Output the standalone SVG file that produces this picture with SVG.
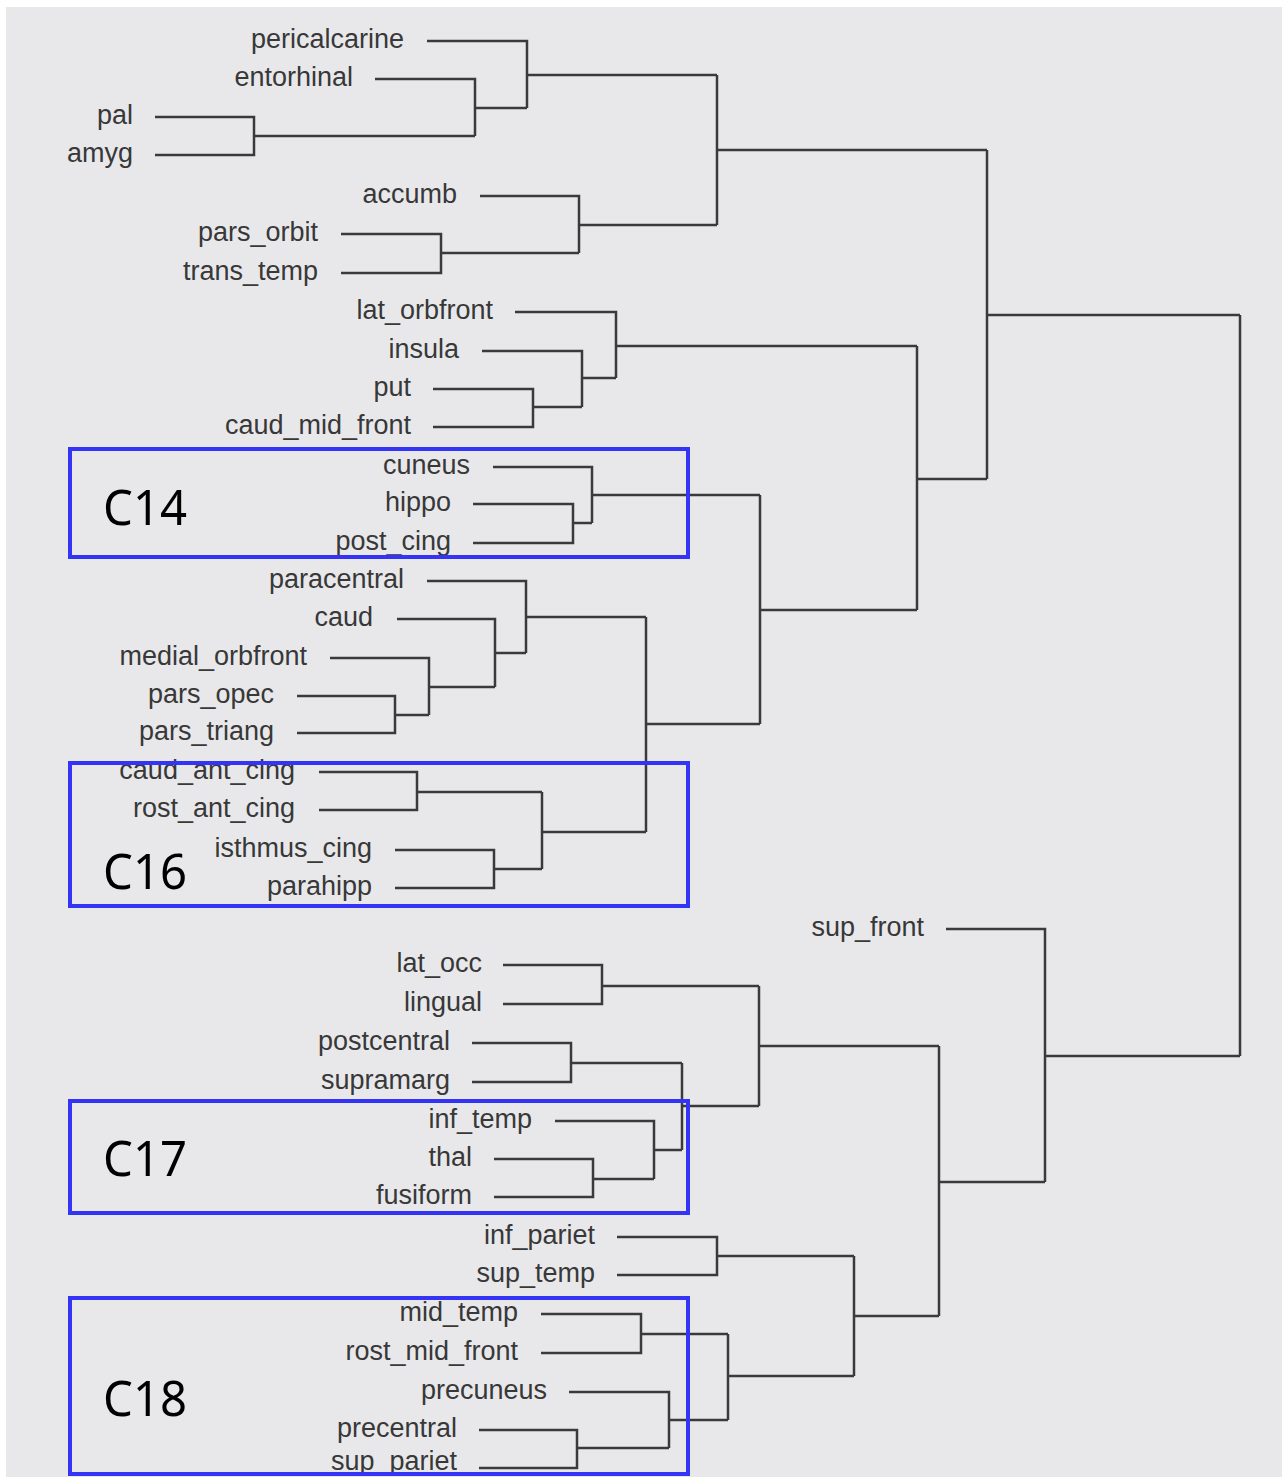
<svg xmlns="http://www.w3.org/2000/svg" width="1282" height="1477" viewBox="0 0 1282 1477">
<style>
.bg{fill:#e8e8eb}
.lbl{font-family:"Liberation Sans",Arial,sans-serif;font-size:27px;fill:#383838;text-anchor:end}
.ln{fill:none;stroke:#3a3a3a;stroke-width:2.5}
.box{fill:none;stroke:#3434f6;stroke-width:4}
.cl{font-family:"Noto Sans","Open Sans",sans-serif;font-size:49px;fill:#000}
</style>
<rect width="1282" height="1477" fill="#ffffff"/>
<rect class="bg" x="6" y="7" width="1276" height="1470"/>
<g id="connectors">
<path class="ln" d="M155 117H254V155H155 M254 136H475"/>
<path class="ln" d="M375 79H475V136 M475 108H527"/>
<path class="ln" d="M427 41H527V108 M527 75H717"/>
<path class="ln" d="M341 234H441V273H341 M441 253H579"/>
<path class="ln" d="M480 196H579V253 M579 225H717"/>
<path class="ln" d="M717 75V225 M717 150H987"/>
<path class="ln" d="M433 389H533V427H433 M533 407H582"/>
<path class="ln" d="M482 351H582V407 M582 378H616"/>
<path class="ln" d="M515 312H616V378 M616 346H917"/>
<path class="ln" d="M473 504H573V543H473 M573 523H592"/>
<path class="ln" d="M493 467H592V523 M592 495H760"/>
<path class="ln" d="M297 696H395V733H297 M395 715H429"/>
<path class="ln" d="M330 658H429V715 M429 687H495"/>
<path class="ln" d="M397 619H495V687 M495 653H526"/>
<path class="ln" d="M427 581H526V653 M526 617H646"/>
<path class="ln" d="M319 772H417V810H319 M417 792H542"/>
<path class="ln" d="M395 850H494V888H395 M494 869H542"/>
<path class="ln" d="M542 792V869 M542 832H646"/>
<path class="ln" d="M646 617V832 M646 724H760"/>
<path class="ln" d="M760 495V724 M760 610H917"/>
<path class="ln" d="M917 346V610 M917 479H987"/>
<path class="ln" d="M987 150V479 M987 315H1240"/>
<path class="ln" d="M503 965H602V1004H503 M602 986H759"/>
<path class="ln" d="M472 1043H571V1082H472 M571 1063H682"/>
<path class="ln" d="M494 1159H593V1197H494 M593 1179H654"/>
<path class="ln" d="M555 1121H654V1179 M654 1150H682"/>
<path class="ln" d="M682 1063V1150 M682 1106H759"/>
<path class="ln" d="M759 986V1106 M759 1046H939"/>
<path class="ln" d="M617 1237H717V1275H617 M717 1256H854"/>
<path class="ln" d="M541 1314H641V1353H541 M641 1334H728"/>
<path class="ln" d="M479 1430H577V1468H479 M577 1448H669"/>
<path class="ln" d="M569 1392H669V1448 M669 1420H728"/>
<path class="ln" d="M728 1334V1420 M728 1376H854"/>
<path class="ln" d="M854 1256V1376 M854 1316H939"/>
<path class="ln" d="M939 1046V1316 M939 1182H1045"/>
<path class="ln" d="M946 929H1045V1182 M1045 1056H1240"/>
<path class="ln" d="M1240 315V1056"/>
</g>
<g id="leaves">
<g id="n-pericalcarine"><text class="lbl" x="404" y="48">pericalcarine</text></g>
<g id="n-entorhinal"><text class="lbl" x="353" y="86">entorhinal</text></g>
<g id="n-pal"><text class="lbl" x="133" y="124">pal</text></g>
<g id="n-amyg"><text class="lbl" x="133" y="162">amyg</text></g>
<g id="n-accumb"><text class="lbl" x="457" y="203">accumb</text></g>
<g id="n-pars_orbit"><text class="lbl" x="318" y="241">pars_orbit</text></g>
<g id="n-trans_temp"><text class="lbl" x="318" y="280">trans_temp</text></g>
<g id="n-lat_orbfront"><text class="lbl" x="493" y="319">lat_orbfront</text></g>
<g id="n-insula"><text class="lbl" x="459" y="358">insula</text></g>
<g id="n-put"><text class="lbl" x="411" y="396">put</text></g>
<g id="n-caud_mid_front"><text class="lbl" x="411" y="434">caud_mid_front</text></g>
<g id="n-cuneus"><text class="lbl" x="470" y="474">cuneus</text></g>
<g id="n-hippo"><text class="lbl" x="451" y="511">hippo</text></g>
<g id="n-post_cing"><text class="lbl" x="451" y="550">post_cing</text></g>
<g id="n-paracentral"><text class="lbl" x="404" y="588">paracentral</text></g>
<g id="n-caud"><text class="lbl" x="373" y="626">caud</text></g>
<g id="n-medial_orbfront"><text class="lbl" x="307" y="665">medial_orbfront</text></g>
<g id="n-pars_opec"><text class="lbl" x="274" y="703">pars_opec</text></g>
<g id="n-pars_triang"><text class="lbl" x="274" y="740">pars_triang</text></g>
<g id="n-caud_ant_cing"><text class="lbl" x="295" y="779">caud_ant_cing</text></g>
<g id="n-rost_ant_cing"><text class="lbl" x="295" y="817">rost_ant_cing</text></g>
<g id="n-isthmus_cing"><text class="lbl" x="372" y="857">isthmus_cing</text></g>
<g id="n-parahipp"><text class="lbl" x="372" y="895">parahipp</text></g>
<g id="n-sup_front"><text class="lbl" x="924" y="936">sup_front</text></g>
<g id="n-lat_occ"><text class="lbl" x="482" y="972">lat_occ</text></g>
<g id="n-lingual"><text class="lbl" x="482" y="1011">lingual</text></g>
<g id="n-postcentral"><text class="lbl" x="450" y="1050">postcentral</text></g>
<g id="n-supramarg"><text class="lbl" x="450" y="1089">supramarg</text></g>
<g id="n-inf_temp"><text class="lbl" x="532" y="1128">inf_temp</text></g>
<g id="n-thal"><text class="lbl" x="472" y="1166">thal</text></g>
<g id="n-fusiform"><text class="lbl" x="472" y="1204">fusiform</text></g>
<g id="n-inf_pariet"><text class="lbl" x="595" y="1244">inf_pariet</text></g>
<g id="n-sup_temp"><text class="lbl" x="595" y="1282">sup_temp</text></g>
<g id="n-mid_temp"><text class="lbl" x="518" y="1321">mid_temp</text></g>
<g id="n-rost_mid_front"><text class="lbl" x="518" y="1360">rost_mid_front</text></g>
<g id="n-precuneus"><text class="lbl" x="547" y="1399">precuneus</text></g>
<g id="n-precentral"><text class="lbl" x="457" y="1437">precentral</text></g>
<g id="n-sup_pariet"><text class="lbl" x="457" y="1470">sup_pariet</text></g>
</g>
<g id="c14"><rect class="box" x="70" y="449" width="618" height="108"/><text class="cl" x="103" y="525" textLength="84" lengthAdjust="spacingAndGlyphs">C14</text></g>
<g id="c16"><rect class="box" x="70" y="763" width="618" height="143"/><text class="cl" x="103" y="889" textLength="84" lengthAdjust="spacingAndGlyphs">C16</text></g>
<g id="c17"><rect class="box" x="70" y="1101" width="618" height="112"/><text class="cl" x="103" y="1176" textLength="84" lengthAdjust="spacingAndGlyphs">C17</text></g>
<g id="c18"><rect class="box" x="70" y="1298" width="618" height="176"/><text class="cl" x="103" y="1416" textLength="84" lengthAdjust="spacingAndGlyphs">C18</text></g>
</svg>
